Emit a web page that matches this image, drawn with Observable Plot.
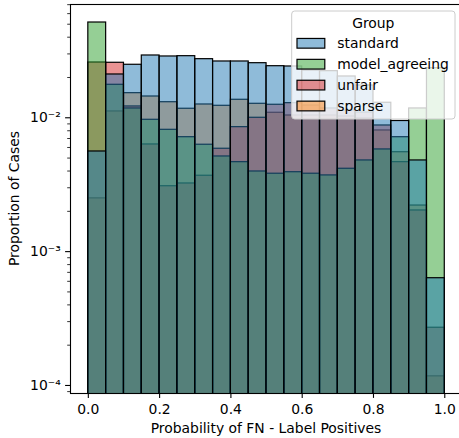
<!DOCTYPE html>
<html><head><meta charset="utf-8">
<script src="https://cdn.jsdelivr.net/npm/d3@7"></script>
<script src="https://cdn.jsdelivr.net/npm/@observablehq/plot@0.6"></script>
<style>
html,body{margin:0;padding:0;background:#fff;overflow:hidden;}
#chart{position:relative;width:459px;height:438px;overflow:hidden;font-family:"DejaVu Sans",sans-serif;}
#overlay{position:absolute;left:0;top:0;pointer-events:none;}
</style></head><body><div id="chart"></div>
<script>
// bin edges (probability of FN)
const binEdges = [0,0.05,0.1,0.15,0.2,0.25,0.3,0.35,0.4,0.45,0.5,0.55,0.6,0.65,0.7,0.75,0.8,0.85,0.9,0.95,1.0];
const groups = ["standard","model_agreeing","unfair","sparse"];
const groupColors = ["#1f77b4","#2ca02c","#d62728","#ff7f0e"];
const drawOrder = ["sparse","unfair","model_agreeing","standard"];

const standard = [0.00560,0.02106,0.02489,0.02920,0.02871,0.02886,0.02741,0.02634,0.02634,0.02558,0.02429,0.02417,0.02256,0.02230,0.02035,0.01743,0.01295,0.00946,0.00480,0.000633];
const model_agreeing = [0.0515,0.01764,0.01174,0.00966,0.00813,0.00716,0.00629,0.00514,0.00466,0.00397,0.00382,0.00392,0.00382,0.00371,0.00416,0.00480,0.00580,0.00716,0.01174,0.0235];
const unfair = [0.02588,0.02576,0.01215,0.00632,0.00308,0.00323,0.00369,0.00587,0.00851,0.0100,0.01251,0.01286,0.01235,0.01174,0.01133,0.01095,0.00876,0.00466,0.00203,0.00027];
const sparse = [0.00250,0.01115,0.01527,0.01442,0.01307,0.01168,0.01257,0.01229,0.01363,0.01272,0.01090,0.01040,0.01040,0.01040,0.01023,0.00988,0.00804,0.00553,0.00221,0.000117];

const xTicks = [0,0.2,0.4,0.6,0.8,1.0];
const yMajor = [1e-4,1e-3,1e-2];
const yMinor = [9e-5,2e-4,3e-4,4e-4,5e-4,6e-4,7e-4,8e-4,9e-4,2e-3,3e-3,4e-3,5e-3,6e-3,7e-3,8e-3,9e-3,2e-2,3e-2,4e-2,5e-2,6e-2,7e-2];
const yDomain = [8.71e-5, 0.0702];
const yFloor = 1e-6;

const series = {standard, model_agreeing, unfair, sparse};
const rows = [];
for (const g of drawOrder) {
  series[g].forEach((v, i) => rows.push({group: g, x1: binEdges[i], x2: binEdges[i+1], value: v}));
}

const supMap = {"-":"⁻","0":"⁰","1":"¹","2":"²","3":"³","4":"⁴","5":"⁵","6":"⁶","7":"⁷","8":"⁸","9":"⁹"};
const fmtPow = d => "10" + String(Math.round(Math.log10(d))).split("").map(c => supMap[c]).join("");

const W = 459, H = 438;
const chart = Plot.plot({
  width: W, height: H,
  marginLeft: 70, marginRight: -3.1, marginTop: 4, marginBottom: 45,
  style: {fontFamily: "DejaVu Sans", fontSize: "13.9px", background: "white", color: "black"},
  x: {domain: [-0.05, 1.05]},
  y: {type: "log", domain: yDomain},
  color: {domain: groups, range: groupColors},
  marks: [
    Plot.rectY(rows, {x1: "x1", x2: "x2", y1: yFloor, y2: "value", fill: "group", fillOpacity: 0.5,
      stroke: "black", strokeWidth: 1.2, inset: 0, clip: true}),
    Plot.axisX({ticks: xTicks, tickFormat: d3.format(".1f"), tickSize: 4.9, tickPadding: 6, strokeWidth: 1.1, label: null}),
    Plot.axisY({ticks: yMajor, tickFormat: fmtPow, tickSize: 4.9, tickPadding: 4.9, strokeWidth: 1.1, label: null}),
    Plot.axisY({ticks: yMinor, tickFormat: () => "", tickSize: 2.8, strokeWidth: 0.8, label: null}),
    Plot.frame({stroke: "black", strokeWidth: 1.1})
  ]
});
const root = document.getElementById("chart");
root.appendChild(chart);

// overlay: axis titles and legend
const ov = d3.select(root).append("svg").attr("id","overlay").attr("width",W).attr("height",H)
  .style("font-family","DejaVu Sans").style("font-size","13.9px");
ov.append("text").attr("x",266).attr("y",433).attr("text-anchor","middle").attr("fill","black")
  .text("Probability of FN - Label Positives");
ov.append("text").attr("transform","translate(18.5,198.5) rotate(-90)").attr("text-anchor","middle").attr("fill","black")
  .text("Proportion of Cases");

const lg = ov.append("g");
lg.append("rect").attr("x",291.7).attr("y",11).attr("width",163.3).attr("height",108).attr("rx",3)
  .attr("fill","white").attr("fill-opacity",0.8).attr("stroke","#cccccc").attr("stroke-width",1);
lg.append("text").attr("x",373.3).attr("y",28.3).attr("text-anchor","middle").attr("fill","black").text("Group");
groups.forEach((g, i) => {
  const cy = 43.3 + i * 20.9;
  lg.append("rect").attr("x",297).attr("y",cy - 4.85).attr("width",27.8).attr("height",9.7)
    .attr("fill",groupColors[i]).attr("fill-opacity",0.5).attr("stroke","black").attr("stroke-width",1.2);
  lg.append("text").attr("x",337.3).attr("y",cy + 5).attr("fill","black").text(g);
});
</script></body></html>
